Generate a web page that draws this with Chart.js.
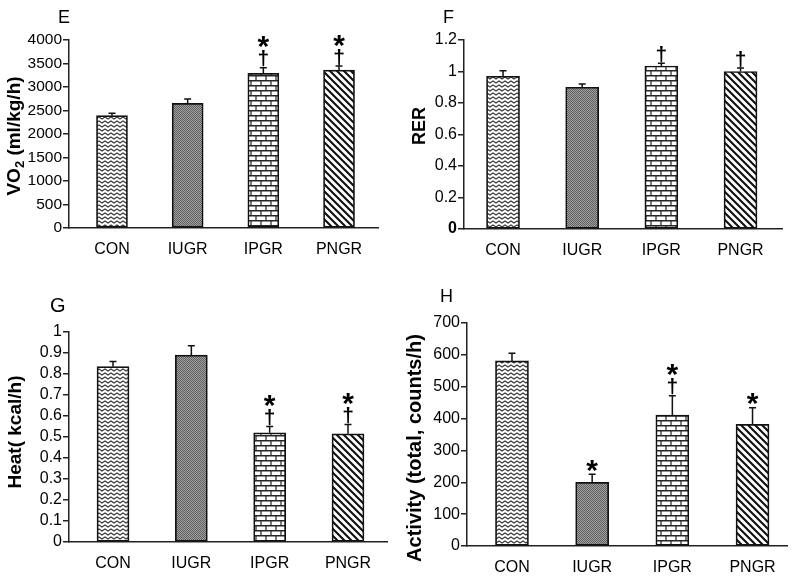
<!DOCTYPE html>
<html><head><meta charset="utf-8">
<script src="https://cdn.jsdelivr.net/npm/chart.js@4.4.0/dist/chart.umd.min.js"></script>
<style>
body{margin:0;background:#fff;width:800px;height:577px;position:relative;overflow:hidden}
canvas{position:absolute}
</style></head><body>
<canvas id="cE" width="400" height="270" style="left:0;top:0"></canvas>
<canvas id="cF" width="400" height="270" style="left:400px;top:0"></canvas>
<canvas id="cG" width="400" height="297" style="left:0;top:280px"></canvas>
<canvas id="cH" width="400" height="297" style="left:400px;top:280px"></canvas>
<script>
const categories = ['CON', 'IUGR', 'IPGR', 'PNGR'];

const vo2Mean = [2390, 2650, 3290, 3360];
const vo2Err = [50, 95, 120, 85];
const vo2Marks = ['', '', '*†', '*†'];
const vo2Ticks = [0, 500, 1000, 1500, 2000, 2500, 3000, 3500, 4000];

const rerMean = [0.97, 0.90, 1.035, 1.0];
const rerErr = [0.035, 0.02, 0.017, 0.022];
const rerMarks = ['', '', '†', '†'];
const rerTicks = [0, 0.2, 0.4, 0.6, 0.8, 1.0, 1.2];

const heatMean = [0.835, 0.89, 0.52, 0.515];
const heatErr = [0.025, 0.045, 0.03, 0.045];
const heatMarks = ['', '', '*†', '*†'];
const heatTicks = [0, 0.1, 0.2, 0.3, 0.4, 0.5, 0.6, 0.7, 0.8, 0.9, 1.0];

const actMean = [581, 200, 411, 382];
const actErr = [24, 25, 61, 52];
const actMarks = ['', '*', '*†', '*'];
const actTicks = [0, 100, 200, 300, 400, 500, 600, 700];

const FONT = '"Liberation Sans", Arial, Helvetica, sans-serif';

function tile(w, h, draw) {
  const c = document.createElement('canvas'); c.width = w; c.height = h;
  const g = c.getContext('2d'); g.fillStyle = '#fff'; g.fillRect(0, 0, w, h);
  draw(g); return c;
}
function patterns(ctx) {
  const zig = tile(6, 4, g => {
    g.strokeStyle = '#3a3a3a'; g.lineWidth = 1.1;
    g.beginPath();
    g.moveTo(-3, 1); g.lineTo(0, 3); g.lineTo(3, 1); g.lineTo(6, 3); g.lineTo(9, 1);
    g.stroke();
  });
  const dense = tile(2, 2, g => {
    g.fillStyle = '#a2a2a2'; g.fillRect(0, 0, 2, 2);
    g.fillStyle = '#5e5e5e'; g.fillRect(0, 0, 1, 1); g.fillRect(1, 1, 1, 1);
  });
  const brick = tile(10, 10, g => {
    g.strokeStyle = '#262626'; g.lineWidth = 1.5;
    g.beginPath();
    g.moveTo(0, 0.75); g.lineTo(10, 0.75);
    g.moveTo(0, 5.75); g.lineTo(10, 5.75);
    g.stroke();
    g.lineWidth = 1.2;
    g.beginPath();
    g.moveTo(1, 0); g.lineTo(1, 5.5);
    g.moveTo(6, 5.5); g.lineTo(6, 10);
    g.stroke();
  });
  const diag = tile(7, 7, g => {
    g.strokeStyle = '#111'; g.lineWidth = 2.1;
    g.beginPath();
    for (const o of [-7, 0, 7]) { g.moveTo(o - 1, -1); g.lineTo(o + 8, 8); }
    g.stroke();
  });
  return [zig, dense, brick, diag].map(c => ctx.createPattern(c, 'repeat'));
}

function annotPlugin(o) {
  return {
    id: 'annot',
    afterDatasetsDraw(chart) {
      const {ctx, scales: {x, y}} = chart;
      ctx.save();
      ctx.strokeStyle = '#111'; ctx.lineWidth = 1.5;
      o.mean.forEach((m, i) => {
        const px = x.getPixelForValue(i);
        const y0 = y.getPixelForValue(m);
        const y1 = y.getPixelForValue(m + o.err[i]);
        ctx.beginPath();
        ctx.moveTo(px, y0); ctx.lineTo(px, y1);
        ctx.moveTo(px - 3.5, y1); ctx.lineTo(px + 3.5, y1);
        ctx.stroke();
        const mk = o.marks[i];
        ctx.fillStyle = '#000'; ctx.textAlign = 'center'; ctx.textBaseline = 'alphabetic';
        let bottom = y1 - 0.5;
        if (mk.includes('†')) {
          ctx.font = 'bold 21px ' + FONT;
          const mt = ctx.measureText('†');
          const base = bottom - mt.actualBoundingBoxDescent;
          ctx.fillText('†', px, base);
          bottom = base - mt.actualBoundingBoxAscent - 2;
        } else {
          bottom -= 2;
        }
        if (mk.includes('*')) {
          ctx.font = 'bold 30px ' + FONT;
          const mt = ctx.measureText('*');
          ctx.fillText('*', px, bottom - mt.actualBoundingBoxDescent);
        }
      });
      ctx.restore();
    },
    afterDraw(chart) {
      const ctx = chart.ctx;
      ctx.save();
      ctx.fillStyle = '#000';
      ctx.font = o.letterSize + 'px ' + FONT;
      ctx.textAlign = 'left'; ctx.textBaseline = 'alphabetic';
      ctx.fillText(o.letter, o.letterX, o.letterY);
      ctx.translate(o.tX, o.tY);
      ctx.rotate(-Math.PI / 2);
      ctx.textBaseline = 'middle'; ctx.textAlign = 'left';
      let total = 0;
      o.title.forEach(p => { ctx.font = 'bold ' + p[1] + 'px ' + FONT; total += ctx.measureText(p[0]).width; });
      let xx = -total / 2;
      o.title.forEach(p => {
        ctx.font = 'bold ' + p[1] + 'px ' + FONT;
        ctx.fillText(p[0], xx, p[2]);
        xx += ctx.measureText(p[0]).width;
      });
      ctx.restore();
    }
  };
}

function makeChart(id, o) {
  const canvas = document.getElementById(id);
  const ctx = canvas.getContext('2d');
  const pats = patterns(ctx);
  new Chart(ctx, {
    type: 'bar',
    data: {
      datasets: [{
        data: o.mean.map((v, i) => ({x: i, y: v})),
        backgroundColor: pats,
        borderColor: '#111',
        borderWidth: 1.7,
        borderSkipped: false,
        barThickness: o.barW
      }]
    },
    options: {
      responsive: false,
      animation: false,
      events: [],
      layout: {padding: o.pad},
      plugins: {legend: {display: false}, tooltip: {enabled: false}},
      scales: {
        x: {
          type: 'linear', min: o.xMin, max: o.xMax, bounds: 'data', offset: false,
          grid: {display: false, offset: false},
          border: {display: true, color: '#222', width: 1.5},
          afterBuildTicks: s => { s.ticks = categories.map((c, i) => ({value: i})); },
          afterFit: s => { s.height = o.xH; },
          ticks: {
            callback: v => categories[v] ?? '',
            font: {family: FONT, size: 16}, color: '#000', padding: 4,
            maxRotation: 0, autoSkip: false
          }
        },
        y: {
          min: o.ticks[0], max: o.ticks[o.ticks.length - 1],
          afterBuildTicks: s => { s.ticks = o.ticks.map(v => ({value: v})); },
          afterFit: s => { s.width = o.yW; },
          grid: {display: true, drawOnChartArea: false, drawTicks: true, tickLength: 6, color: '#222', lineWidth: 1.5},
          border: {display: true, color: '#222', width: 1.5},
          ticks: {
            callback: v => String(Math.round(v * 10) / 10),
            font: c => ({family: FONT, size: o.tickSize, weight: (o.boldZero && c.tick && c.tick.value === 0) ? 'bold' : 'normal'}),
            color: '#000', padding: 1, autoSkip: false
          }
        }
      }
    },
    plugins: [annotPlugin(o)]
  });
}

makeChart('cE', {
  mean: vo2Mean, err: vo2Err, marks: vo2Marks, ticks: vo2Ticks,
  xMin: -0.568, xMax: 3.515, barW: 31, yW: 69, xH: 42,
  pad: {left: 0, top: 40, right: 22, bottom: 0}, tickSize: 15.5,
  letter: 'E', letterX: 58, letterY: 23, letterSize: 18,
  tX: 15, tY: 136,
  title: [['VO', 19, 0], ['2', 13, 5], [' (ml/kg/h)', 19, 0]]
});
makeChart('cF', {
  mean: rerMean, err: rerErr, marks: rerMarks, ticks: rerTicks,
  xMin: -0.493, xMax: 3.524, barW: 33, yW: 64, xH: 41,
  pad: {left: 0, top: 40, right: 18, bottom: 0}, tickSize: 16, boldZero: true,
  letter: 'F', letterX: 43, letterY: 23, letterSize: 18,
  tX: 20, tY: 126,
  title: [['RER', 18, 0]]
});
makeChart('cG', {
  mean: heatMean, err: heatErr, marks: heatMarks, ticks: heatTicks,
  xMin: -0.562, xMax: 3.498, barW: 32, yW: 69, xH: 35,
  pad: {left: 0, top: 52, right: 13, bottom: 0}, tickSize: 16,
  letter: 'G', letterX: 50, letterY: 32, letterSize: 20,
  tX: 16, tY: 152,
  title: [['Heat( kcal/h)', 19, 0]]
});
makeChart('cH', {
  mean: actMean, err: actErr, marks: actMarks, ticks: actTicks,
  xMin: -0.561, xMax: 3.43, barW: 33, yW: 67, xH: 31,
  pad: {left: 0, top: 43, right: 13, bottom: 0}, tickSize: 16,
  letter: 'H', letterX: 40, letterY: 22, letterSize: 18,
  tX: 15, tY: 168,
  title: [['Activity (total, counts/h)', 20, 0]]
});
</script>
</body></html>
